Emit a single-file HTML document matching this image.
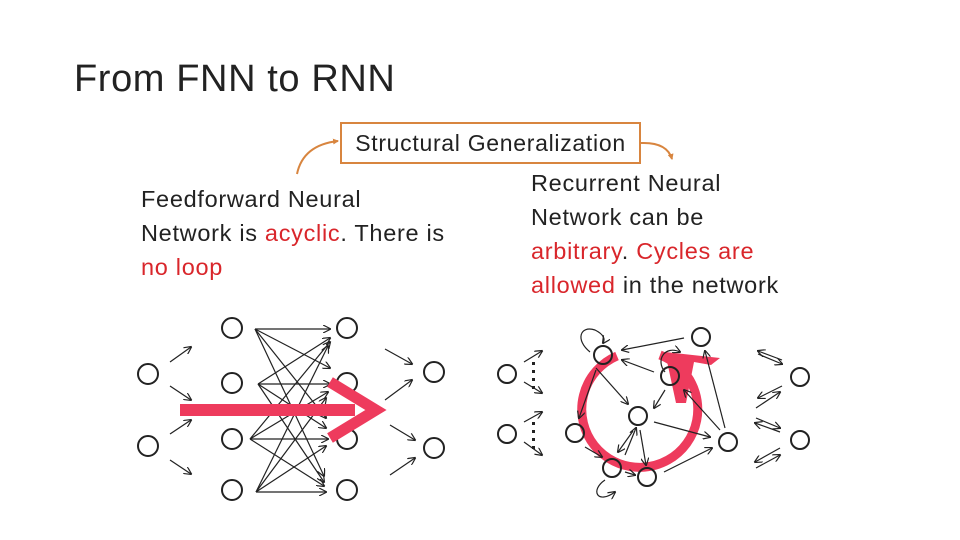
<!DOCTYPE html>
<html><head><meta charset="utf-8"><style>
body{margin:0;width:960px;height:540px;background:#fff;overflow:hidden;font-family:"Liberation Sans",sans-serif;position:relative}
.t{position:absolute;color:#222}
.r{color:#d9262b}
</style></head><body>
<div class="t" style="left:74px;top:58px;font-size:38px;letter-spacing:0.6px">From FNN to RNN</div>
<div class="t" style="left:340px;top:122px;width:297px;height:38px;border:2px solid #d8853f;font-size:23px;line-height:38px;text-align:center;letter-spacing:0.7px;white-space:nowrap">Structural Generalization</div>
<div class="t" style="left:141px;top:182px;font-size:23.5px;line-height:34px;letter-spacing:0.7px;white-space:nowrap">Feedforward Neural<br>Network is <span class="r">acyclic</span>. There is<br><span class="r">no loop</span></div>
<div class="t" style="left:531px;top:166px;font-size:23.5px;line-height:34px;letter-spacing:0.7px;white-space:nowrap">Recurrent Neural<br>Network can be<br><span class="r">arbitrary</span>. <span class="r">Cycles are<br>allowed</span> in the network</div>
<svg width="960" height="540" style="position:absolute;left:0;top:0">
<defs><marker id="a" markerWidth="8" markerHeight="8" refX="7" refY="4" orient="auto" markerUnits="userSpaceOnUse"><path d="M0,0L8,4L0,8" fill="none" stroke="#222" stroke-width="1.2"/></marker>
<marker id="o" markerWidth="6" markerHeight="6" refX="5" refY="3" orient="auto" markerUnits="userSpaceOnUse"><path d="M0,0L6,3L0,6z" fill="#d8853f"/></marker></defs>
<path d="M297,174 Q303,145 338,141" fill="none" stroke="#d8853f" stroke-width="2" marker-end="url(#o)"/>
<path d="M641,143 Q667,142 672,159" fill="none" stroke="#d8853f" stroke-width="2" marker-end="url(#o)"/>
<g fill="none" stroke="#222" stroke-width="2">
<circle cx="148" cy="374" r="10"/><circle cx="148" cy="446" r="10"/>
<circle cx="232" cy="328" r="10"/><circle cx="232" cy="383" r="10"/><circle cx="232" cy="439" r="10"/><circle cx="232" cy="490" r="10"/>
<circle cx="347" cy="328" r="10"/><circle cx="347" cy="383" r="10"/><circle cx="347" cy="439" r="10"/><circle cx="347" cy="490" r="10"/>
<circle cx="434" cy="372" r="10"/><circle cx="434" cy="448" r="10"/>
</g>
<g stroke="#222" stroke-width="1.2" marker-end="url(#a)">
<line x1="170" y1="362" x2="191" y2="347"/><line x1="170" y1="386" x2="191" y2="400"/>
<line x1="170" y1="434" x2="191" y2="420"/><line x1="170" y1="460" x2="191" y2="474"/>
<line x1="385" y1="349" x2="412" y2="364"/><line x1="385" y1="400" x2="412" y2="380"/>
<line x1="390" y1="425" x2="415" y2="440"/><line x1="390" y1="475" x2="415" y2="458"/>
<line x1="255" y1="329" x2="330" y2="329"/><line x1="255" y1="329" x2="330" y2="368"/><line x1="255" y1="329" x2="326" y2="418"/><line x1="255" y1="329" x2="324" y2="476"/>
<line x1="258" y1="384" x2="330" y2="338"/><line x1="258" y1="384" x2="330" y2="384"/><line x1="258" y1="384" x2="326" y2="428"/><line x1="258" y1="384" x2="324" y2="482"/>
<line x1="250" y1="439" x2="330" y2="342"/><line x1="250" y1="439" x2="328" y2="392"/><line x1="250" y1="439" x2="328" y2="439"/><line x1="250" y1="439" x2="324" y2="486"/>
<line x1="256" y1="492" x2="328" y2="346"/><line x1="256" y1="492" x2="326" y2="398"/><line x1="256" y1="492" x2="326" y2="446"/><line x1="256" y1="492" x2="326" y2="492"/>
</g>
<rect x="180" y="404" width="175" height="12" fill="#ee3b5d"/>
<polyline points="330,382 376,410 330,438" fill="none" stroke="#ee3b5d" stroke-width="11"/>
<!-- RNN -->
<path d="M660,355 A58,58 0 1 1 617,356" fill="none" stroke="#ee3b5d" stroke-width="9"/>
<polygon points="665,352 720,358 711,365 694,362 686,403 676,403" fill="#ee3b5d"/>
<g fill="none" stroke="#222" stroke-width="2">
<circle cx="507" cy="374" r="9"/><circle cx="507" cy="434" r="9"/>
<circle cx="603" cy="355" r="9"/><circle cx="701" cy="337" r="9"/><circle cx="670" cy="376" r="9"/>
<circle cx="638" cy="416" r="9"/><circle cx="575" cy="433" r="9"/><circle cx="612" cy="468" r="9"/>
<circle cx="647" cy="477" r="9"/><circle cx="728" cy="442" r="9"/>
<circle cx="800" cy="377" r="9"/><circle cx="800" cy="440" r="9"/>
</g>
<g fill="#222"><rect x="532" y="362" width="3" height="3"/><rect x="532" y="370" width="3" height="3"/><rect x="532" y="378" width="3" height="3"/><rect x="532" y="386" width="3" height="3"/>
<rect x="532" y="422" width="3" height="3"/><rect x="532" y="430" width="3" height="3"/><rect x="532" y="438" width="3" height="3"/><rect x="532" y="446" width="3" height="3"/></g>
<g stroke="#222" stroke-width="1.2" fill="none" marker-end="url(#a)">
<line x1="524" y1="362" x2="542" y2="351"/><line x1="524" y1="382" x2="542" y2="393"/>
<line x1="524" y1="422" x2="542" y2="412"/><line x1="524" y1="442" x2="542" y2="455"/>
<line x1="684" y1="338" x2="622" y2="350"/><line x1="654" y1="372" x2="622" y2="360"/>
<line x1="596" y1="368" x2="628" y2="404"/><line x1="596" y1="370" x2="579" y2="418"/>
<line x1="665" y1="390" x2="654" y2="408"/><line x1="654" y1="422" x2="710" y2="437"/>
<line x1="640" y1="430" x2="646" y2="465"/><line x1="633" y1="431" x2="618" y2="452"/>
<line x1="625" y1="455" x2="636" y2="428"/><line x1="585" y1="447" x2="602" y2="457"/>
<line x1="625" y1="472" x2="635" y2="475"/><line x1="664" y1="472" x2="712" y2="448"/>
<line x1="725" y1="428" x2="705" y2="351"/><line x1="720" y1="430" x2="684" y2="390"/>
<path d="M590,352 C575,340 580,325 595,330 C605,335 605,340 603,343"/>
<path d="M665,372 C655,360 665,345 680,352"/>
<path d="M605,480 C590,490 597,505 615,492"/>
<line x1="758" y1="354" x2="782" y2="364"/><line x1="782" y1="360" x2="758" y2="351"/>
<line x1="782" y1="386" x2="758" y2="398"/><line x1="756" y1="408" x2="780" y2="392"/>
<line x1="756" y1="418" x2="780" y2="428"/><line x1="780" y1="432" x2="755" y2="423"/>
<line x1="780" y1="448" x2="755" y2="462"/><line x1="756" y1="468" x2="780" y2="455"/>
</g>
</svg>
</body></html>
